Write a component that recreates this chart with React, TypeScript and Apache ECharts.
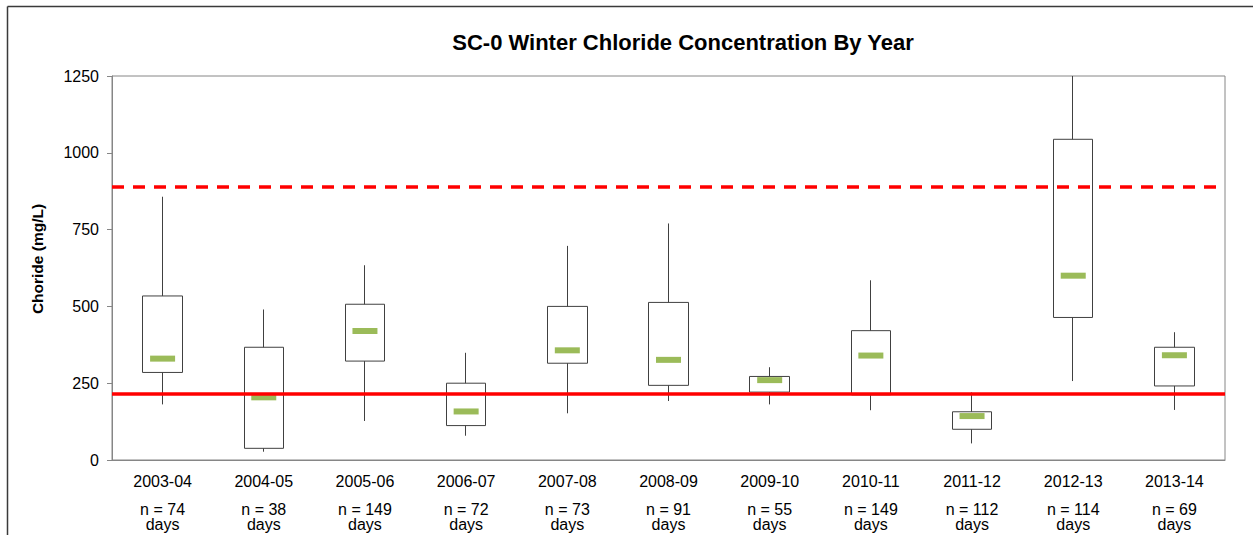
import React, { useEffect, useRef } from "react";
import * as echarts from "echarts";

const years = ["2003-04", "2004-05", "2005-06", "2006-07", "2007-08", "2008-09", "2009-10", "2010-11", "2011-12", "2012-13", "2013-14"];
const counts = [74, 38, 149, 72, 73, 91, 55, 149, 112, 114, 69];
const mins = [181, 27, 127, 79, 152, 192, 181, 162, 54, 257, 163];
const q1 = [285, 38, 322, 112, 315, 243, 221, 212, 100, 464, 241];
const medians = [330, 204, 420, 158, 357, 326, 260, 340, 143, 600, 341];
const q3 = [534, 367, 507, 250, 500, 513, 272, 421, 157, 1044, 367];
const maxs = [857, 490, 634, 349, 697, 770, 302, 585, 220, 1250, 416];
const lowerLimit = 215;
const upperLimit = 890;
const yTicks = { min: 0, max: 1250, interval: 250 };

const FONT = "'Liberation Sans', Arial, sans-serif";

export default function App() {
  const ref = useRef<HTMLDivElement>(null);
  useEffect(() => {
    if (!ref.current) return;
    const chart = echarts.init(ref.current, null, { renderer: "svg" });
    const axisGray = "#868686";
    const option = {
      animation: false,
      backgroundColor: "#ffffff",
      textStyle: { fontFamily: FONT },
      grid: {
        left: 112,
        top: 76,
        width: 1113,
        height: 384,
        show: true,
        borderColor: axisGray,
        borderWidth: 1,
        backgroundColor: "transparent",
      },
      graphic: [
        {
          type: "line",
          shape: { x1: 7.5, y1: 6.5, x2: 1260, y2: 6.5 },
          style: { stroke: "#3a3a3a", lineWidth: 1.5 },
          silent: true,
        },
        {
          type: "line",
          shape: { x1: 7.5, y1: 6.5, x2: 7.5, y2: 540 },
          style: { stroke: "#3a3a3a", lineWidth: 1.5 },
          silent: true,
        },
        {
          type: "text",
          x: 683,
          y: 42,
          style: {
            text: "SC-0 Winter Chloride Concentration By Year",
            font: `bold 22px ${FONT}`,
            fill: "#000000",
            textAlign: "center",
            textVerticalAlign: "middle",
          },
          silent: true,
        },
        {
          type: "text",
          x: 37.5,
          y: 259,
          rotation: Math.PI / 2,
          style: {
            text: "Choride (mg/L)",
            font: `bold 15.5px ${FONT}`,
            fill: "#000000",
            textAlign: "center",
            textVerticalAlign: "middle",
          },
          silent: true,
        },
      ],
      xAxis: {
        type: "category",
        data: years,
        axisLine: { show: true, lineStyle: { color: axisGray, width: 1 } },
        axisTick: { show: false },
        splitLine: { show: false },
        axisLabel: {
          interval: 0,
          margin: 13.5,
          color: "#000000",
          fontSize: 16,
          fontFamily: FONT,
          formatter: (value: string, index: number) =>
            `{y|${value}}\n{g| }\n{n|n = ${counts[index]}}\n{n|days}`,
          rich: {
            y: { fontSize: 16, lineHeight: 15, fontFamily: FONT, color: "#000" },
            g: { fontSize: 10, lineHeight: 13 },
            n: { fontSize: 16, lineHeight: 15, fontFamily: FONT, color: "#000" },
          },
        },
      },
      yAxis: {
        type: "value",
        min: yTicks.min,
        max: yTicks.max,
        interval: yTicks.interval,
        axisLine: { show: true, lineStyle: { color: axisGray, width: 1 } },
        axisTick: { show: true, inside: false, length: 5, lineStyle: { color: axisGray } },
        splitLine: { show: false },
        axisLabel: {
          margin: 13,
          color: "#000000",
          fontSize: 16,
          fontFamily: FONT,
          formatter: (v: number) => String(v),
        },
      },
      series: [
        {
          type: "candlestick",
          barWidth: 40,
          data: years.map((_, i) => [q1[i], q3[i], mins[i], maxs[i]]),
          itemStyle: {
            color: "#ffffff",
            color0: "#ffffff",
            borderColor: "#404040",
            borderColor0: "#404040",
            borderWidth: 1,
          },
          silent: true,
          z: 2,
        },
        {
          type: "scatter",
          symbol: "rect",
          symbolSize: [25, 6],
          data: medians,
          itemStyle: { color: "#9BBB59", opacity: 1 },
          silent: true,
          z: 3,
        },
        {
          type: "line",
          data: [],
          silent: true,
          z: 5,
          markLine: {
            silent: true,
            symbol: ["none", "none"],
            label: { show: false },
            lineStyle: { color: "#FF0000", width: 3.5 },
            data: [
              { yAxis: lowerLimit, lineStyle: { type: "solid", color: "#FF0000", width: 3.5 } },
              { yAxis: upperLimit, lineStyle: { type: [12, 9], color: "#FF0000", width: 3.5 } },
            ],
          },
        },
      ],
    };
    chart.setOption(option as any);
    return () => chart.dispose();
  }, []);
  return (
    <div
      ref={ref}
      style={{ position: "fixed", left: 0, top: 0, width: 1253, height: 535 }}
    />
  );
}
